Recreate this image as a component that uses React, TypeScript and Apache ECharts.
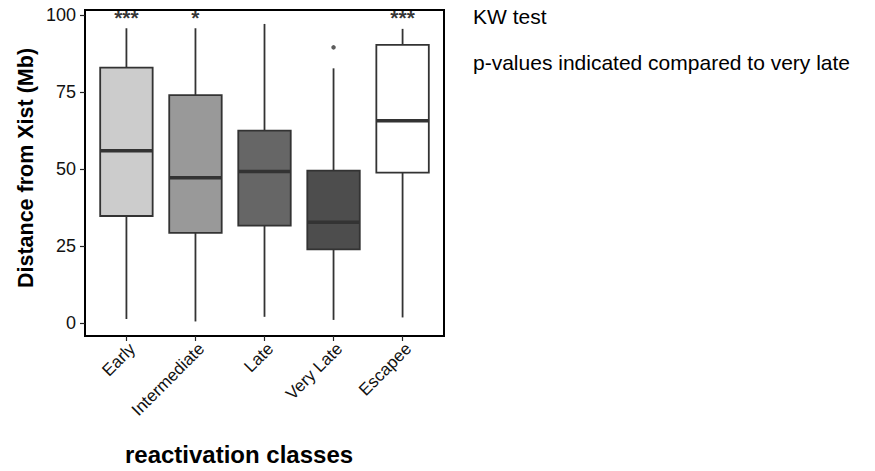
import React, { useEffect, useRef } from "react";
import * as echarts from "echarts";

const categories = ["Early", "Intermediate", "Late", "Very Late", "Escapee"];
const catPositions = [1, 2, 3, 4, 5];
const whiskerLow = [1.4, 0.6, 2.1, 1.1, 1.9];
const q1 = [34.8, 29.3, 31.7, 24.0, 48.9];
const medians = [56.0, 47.2, 49.2, 32.8, 65.7];
const q3 = [82.9, 74.0, 62.5, 49.5, 90.3];
const whiskerHigh = [95.7, 95.7, 97.1, 82.7, 95.5];
const fills = ["#CCCCCC", "#999999", "#666666", "#4D4D4D", "#FFFFFF"];
const outlierCats = [4];
const outlierVals = [89.5];
const sigLabels = ["***", "*", "", "", "***"];
const sigY = 100;
const yTicks = [0, 25, 50, 75, 100];
const yMin = -4.12;
const yMax = 101.62;
const xMin = 0.4;
const xMax = 5.6;

const SANS = "'Liberation Sans', Arial, sans-serif";

export default function App() {
  const ref = useRef<HTMLDivElement>(null);
  useEffect(() => {
    document.body.style.margin = "0";
    if (!ref.current) return;
    const chart = echarts.init(ref.current, null, { renderer: "svg" });
    const boxData = categories.map((_, i) => [catPositions[i], whiskerLow[i], q1[i], medians[i], q3[i], whiskerHigh[i]]);
    const option: any = {
      animation: false,
      backgroundColor: "#ffffff",
      grid: { left: 85, top: 10, width: 359, height: 326, show: true, borderColor: "#000", borderWidth: 2, backgroundColor: "transparent" },
      xAxis: {
        type: "value",
        min: xMin,
        max: xMax,
        axisLine: { show: false, onZero: false },
        axisTick: { show: true, customValues: catPositions, length: 5, lineStyle: { color: "#222", width: 1.2 } },
        axisLabel: {
          customValues: catPositions,
          formatter: (v: number) => categories[Math.round(v) - 1] ?? "",
          rotate: 45,
          align: "right",
          verticalAlign: "top",
          margin: 4,
          fontFamily: SANS,
          fontSize: 17,
          color: "#111",
        },
        splitLine: { show: false },
      },
      yAxis: {
        type: "value",
        min: yMin,
        max: yMax,
        axisLine: { show: false, onZero: false },
        axisTick: { show: true, customValues: yTicks, length: 5, lineStyle: { color: "#222", width: 1.2 } },
        axisLabel: { customValues: yTicks, margin: 9, fontFamily: SANS, fontSize: 18, color: "#111" },
        splitLine: { show: false },
      },
      graphic: [
        {
          type: "text",
          x: 26,
          y: 168,
          rotation: Math.PI / 2,
          style: {
            text: "Distance from Xist (Mb)",
            fontFamily: SANS,
            fontWeight: "bold",
            fontSize: 21.5,
            fill: "#000",
            align: "center",
            verticalAlign: "middle",
          },
        },
        {
          type: "text",
          x: 239,
          y: 454,
          style: {
            text: "reactivation classes",
            fontFamily: SANS,
            fontWeight: "bold",
            fontSize: 24,
            fill: "#000",
            align: "center",
            verticalAlign: "middle",
          },
        },
        {
          type: "text",
          x: 473,
          y: 16,
          style: {
            text: "KW test",
            fontFamily: SANS,
            fontSize: 21,
            fill: "#000",
            align: "left",
            verticalAlign: "middle",
          },
        },
        {
          type: "text",
          x: 473,
          y: 62,
          style: {
            text: "p-values indicated compared to very late",
            fontFamily: SANS,
            fontSize: 21,
            fill: "#000",
            align: "left",
            verticalAlign: "middle",
          },
        },
      ],
      series: [
        {
          type: "custom",
          encode: { x: 0, y: [1, 2, 3, 4, 5] },
          data: boxData,
          renderItem: (params: any, api: any) => {
            const xv = api.value(0);
            const lo = api.coord([xv, api.value(1)]);
            const b1 = api.coord([xv, api.value(2)]);
            const md = api.coord([xv, api.value(3)]);
            const b3 = api.coord([xv, api.value(4)]);
            const hi = api.coord([xv, api.value(5)]);
            const bw = api.size([1, 0])[0] * 0.76;
            const x = lo[0];
            const stroke = "#333333";
            return {
              type: "group",
              children: [
                { type: "line", shape: { x1: x, y1: hi[1], x2: x, y2: b3[1] }, style: { stroke, lineWidth: 1.8 } },
                { type: "line", shape: { x1: x, y1: b1[1], x2: x, y2: lo[1] }, style: { stroke, lineWidth: 1.8 } },
                {
                  type: "rect",
                  shape: { x: x - bw / 2, y: b3[1], width: bw, height: b1[1] - b3[1] },
                  style: { fill: fills[params.dataIndex], stroke, lineWidth: 1.8 },
                },
                {
                  type: "line",
                  shape: { x1: x - bw / 2, y1: md[1], x2: x + bw / 2, y2: md[1] },
                  style: { stroke, lineWidth: 3.5 },
                },
              ],
            };
          },
        },
        {
          type: "scatter",
          data: outlierCats.map((c, k) => [c, outlierVals[k]]),
          symbol: "circle",
          symbolSize: 4.5,
          itemStyle: { color: "#333333" },
        },
        {
          type: "scatter",
          data: catPositions.map((c) => [c, sigY]),
          symbolSize: 0,
          label: {
            show: true,
            position: "inside",
            offset: [0, 3],
            formatter: (p: any) => sigLabels[p.dataIndex],
            fontFamily: SANS,
            fontWeight: "bold",
            fontSize: 21,
            color: "#000",
          },
        },
      ],
    };
    chart.setOption(option);
    return () => chart.dispose();
  }, []);
  return <div ref={ref} style={{ width: 875, height: 471 }} />;
}
